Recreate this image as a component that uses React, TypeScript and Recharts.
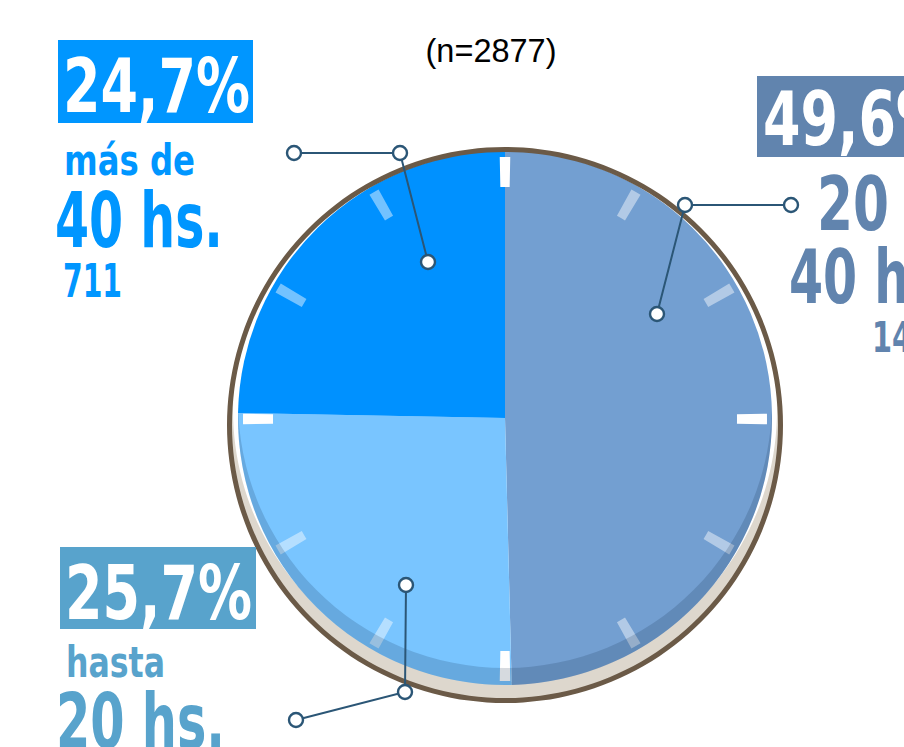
import React from 'react';
import { PieChart, Pie, Cell, Customized } from 'recharts';

// hours worked per week (n=2877)
const categories = ['20 a 40 hs.', 'hasta 20 hs.', 'más de 40 hs.'];
const categoryLines = [
  ['20 a', '40 hs.'],
  ['hasta', '20 hs.'],
  ['más de', '40 hs.'],
];
const shares = [49.6, 25.7, 24.7];
const counts = [1427, 739, 711];
const sampleSize = 2877;
const clockHours = [12, 1, 2, 3, 4, 5, 6, 7, 8, 9, 10, 11];

const sliceColors = ['#739fd1', '#79c5ff', '#0091ff'];
const labelColors = ['#6184ae', '#58a3cc', '#0096ff'];

const W = 904;
const H = 747;
const CX = 505;
const CY = 418;
const R = 267;
const TICK = 2.3;
const LINE = '#2b5676';
const CONDENSED =
  '"Liberation Sans Narrow", "DejaVu Sans Condensed", "Roboto Condensed", Roboto, sans-serif';

const data = categories.map((name, i) => ({ name, value: shares[i], count: counts[i] }));
const tickData = clockHours.flatMap((hour) => [
  { hour, value: TICK, tick: true },
  { hour, value: 30 - TICK, tick: false },
]);
const disc = [{ value: 1 }];

type Txt = { x: number; y: number; w: number; size: number };
interface Callout {
  inner: [number, number];
  elbow: [number, number];
  end: [number, number];
  box: { x: number; y: number; w: number; h: number };
  pct: Txt;
  line1: Txt;
  line2: Txt;
  count: Txt;
}

// layout of the callouts, offsets of the leader lines are from the pie centre
const callouts: Callout[] = [
  {
    inner: [152, -104],
    elbow: [180, -213],
    end: [286, -213],
    box: { x: 757, y: 76, w: 200, h: 81 },
    pct: { x: 763, y: 145, w: 187, size: 74 },
    line1: { x: 817, y: 230, w: 125, size: 74 },
    line2: { x: 789, y: 303, w: 168, size: 74 },
    count: { x: 872, y: 352, w: 80, size: 42 },
  },
  {
    inner: [-99, 167],
    elbow: [-100, 274],
    end: [-209, 302],
    box: { x: 60, y: 547, w: 196, h: 82 },
    pct: { x: 65, y: 619, w: 187, size: 74 },
    line1: { x: 66, y: 677, w: 99, size: 43 },
    line2: { x: 56, y: 748, w: 169, size: 76 },
    count: { x: 63, y: 798, w: 59, size: 46 },
  },
  {
    inner: [-77, -156],
    elbow: [-105, -265],
    end: [-211, -265],
    box: { x: 58, y: 40, w: 195, h: 83 },
    pct: { x: 63, y: 112, w: 187, size: 74 },
    line1: { x: 64, y: 175, w: 131, size: 42 },
    line2: { x: 55, y: 247, w: 168, size: 76 },
    count: { x: 63, y: 297, w: 59, size: 46 },
  },
];

const fmtPct = (v: number) => v.toFixed(1).replace('.', ',') + '%';

const T = ({ t, fill, children }: { t: Txt; fill: string; children: React.ReactNode }) => (
  <text
    x={t.x}
    y={t.y}
    fontSize={t.size}
    fontWeight={700}
    fontFamily={CONDENSED}
    fill={fill}
    textLength={t.w}
    lengthAdjust="spacingAndGlyphs"
  >
    {children}
  </text>
);

const renderCallout = (props: any) => {
  const i = props.index;
  const c = callouts[i];
  const cx = props.cx ?? CX;
  const cy = props.cy ?? CY;
  const pts = [c.inner, c.elbow, c.end].map(([dx, dy]) => [cx + dx, cy + dy]);
  const color = labelColors[i];
  return (
    <g key={`callout-${i}`}>
      <polyline
        points={pts.map((p) => p.join(',')).join(' ')}
        fill="none"
        stroke={LINE}
        strokeWidth={2}
      />
      {pts.map((p, k) => (
        <circle key={k} cx={p[0]} cy={p[1]} r={7} fill="#fff" stroke={LINE} strokeWidth={2.4} />
      ))}
      <rect x={c.box.x} y={c.box.y} width={c.box.w} height={c.box.h} fill={color} />
      <T t={c.pct} fill="#fff">{fmtPct(shares[i])}</T>
      <T t={c.line1} fill={color}>{categoryLines[i][0]}</T>
      <T t={c.line2} fill={color}>{categoryLines[i][1]}</T>
      <T t={c.count} fill={color}>{counts[i]}</T>
    </g>
  );
};

// darker band along the lower rim of the dial, drawn as the label of a blank disc
const renderRimShade = (props: any) => {
  const cx = props.cx ?? CX;
  const cy = props.cy ?? CY;
  const r = props.outerRadius ?? R;
  return (
    <g key="rim-shade">
      <defs>
        <clipPath id="dialClip">
          <circle cx={cx} cy={cy} r={r} />
        </clipPath>
      </defs>
      <path
        d={`M0 0H${W}V${H}H0Z M${cx - r} ${cy - 17} a${r} ${r} 0 1 0 ${2 * r} 0 a${r} ${r} 0 1 0 ${-2 * r} 0Z`}
        fillRule="evenodd"
        fill="#0d2440"
        fillOpacity={0.17}
        clipPath="url(#dialClip)"
      />
    </g>
  );
};

const SampleNote = () => (
  <text
    x={491}
    y={62}
    textAnchor="middle"
    fontSize={32.5}
    fontFamily='"Liberation Sans", Arial, sans-serif'
    fill="#000"
  >
    {`(n=${sampleSize})`}
  </text>
);

export default function App() {
  return (
    <div style={{ position: 'absolute', left: 0, top: 0, width: W, height: H, overflow: 'hidden', background: '#fff' }}>
      <PieChart width={W} height={H} margin={{ top: 0, right: 0, bottom: 0, left: 0 }}>
        <Pie data={disc} dataKey="value" cx={CX} cy={425} outerRadius={276} fill="#ddd7cd" stroke="none" isAnimationActive={false} />
        <Pie data={disc} dataKey="value" cx={CX} cy={410} outerRadius={272} fill="#ffffff" stroke="none" isAnimationActive={false} />
        <Pie
          data={data}
          dataKey="value"
          nameKey="name"
          cx={CX}
          cy={CY}
          outerRadius={R}
          startAngle={90}
          endAngle={-270}
          stroke="none"
          isAnimationActive={false}
        >
          {data.map((d, i) => (
            <Cell key={d.name} fill={sliceColors[i]} />
          ))}
        </Pie>
        <Pie
          data={disc}
          dataKey="value"
          cx={CX}
          cy={CY}
          outerRadius={R}
          fill="none"
          stroke="none"
          label={renderRimShade}
          labelLine={false}
          isAnimationActive={false}
        />
        <Pie
          data={tickData}
          dataKey="value"
          cx={CX}
          cy={419}
          innerRadius={232}
          outerRadius={262}
          startAngle={90 + TICK / 2}
          endAngle={90 + TICK / 2 - 360}
          stroke="none"
          isAnimationActive={false}
        >
          {tickData.map((t, i) => (
            <Cell
              key={i}
              fill={t.tick ? '#ffffff' : 'none'}
              fillOpacity={t.tick ? (t.hour % 3 === 0 ? 1 : 0.45) : 0}
            />
          ))}
        </Pie>
        <Pie data={disc} dataKey="value" cx={CX} cy={425} innerRadius={273} outerRadius={278} fill="#6b5a47" stroke="none" isAnimationActive={false} />
        <Pie
          data={data}
          dataKey="value"
          cx={CX}
          cy={CY}
          outerRadius={R}
          startAngle={90}
          endAngle={-270}
          fill="none"
          stroke="none"
          label={renderCallout}
          labelLine={false}
          isAnimationActive={false}
        />
        <Customized component={<SampleNote />} />
      </PieChart>
    </div>
  );
}
